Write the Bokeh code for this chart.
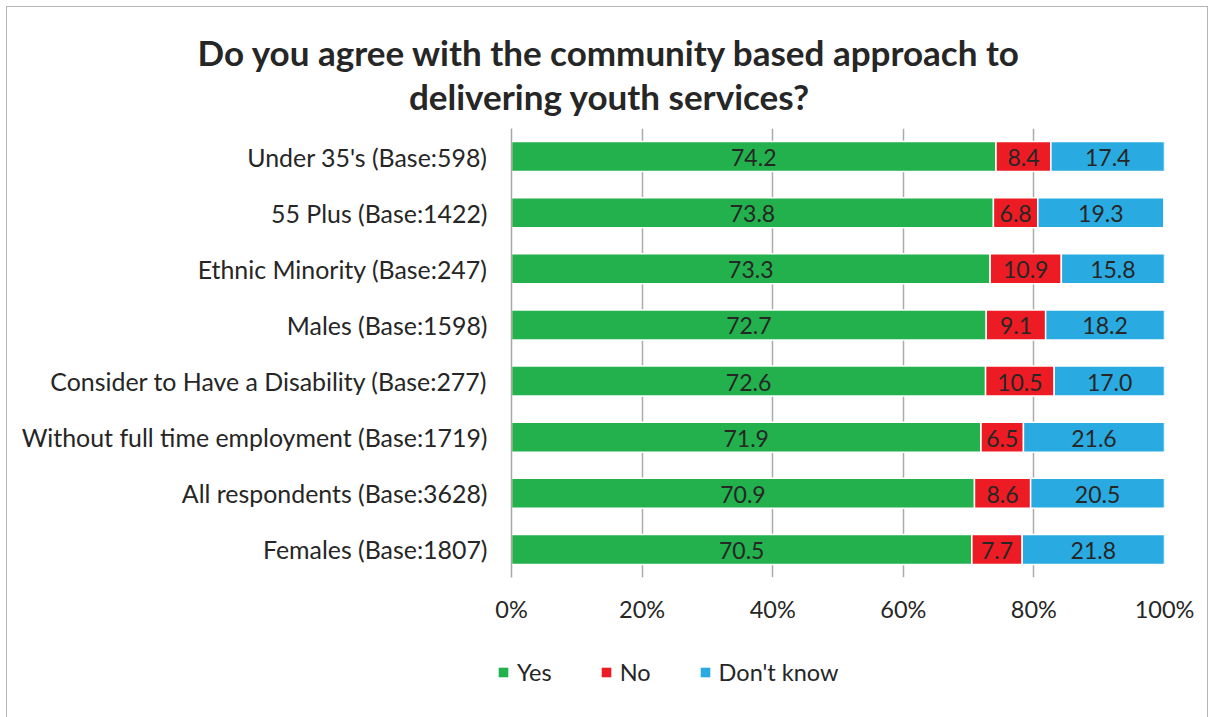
from bokeh.plotting import figure
from bokeh.layouts import column
from bokeh.models import (ColumnDataSource, FactorRange, Range1d, FixedTicker, LabelSet,
                          Label, Legend, LegendItem)
from bokeh.core.properties import value
from bokeh.embed import file_html
from bokeh.resources import INLINE

categories = ["Under 35's (Base:598)", "55 Plus (Base:1422)", "Ethnic Minority (Base:247)",
              "Males (Base:1598)", "Consider to Have a Disability (Base:277)",
              "Without full time employment (Base:1719)", "All respondents (Base:3628)",
              "Females (Base:1807)"]
yes = [74.2, 73.8, 73.3, 72.7, 72.6, 71.9, 70.9, 70.5]
no = [8.4, 6.8, 10.9, 9.1, 10.5, 6.5, 8.6, 7.7]
dont_know = [17.4, 19.3, 15.8, 18.2, 17.0, 21.6, 20.5, 21.8]
series_names = ["Yes", "No", "Don't know"]
colors = ["#22B14C", "#ED1C24", "#29ABE2"]
x_ticks = [0, 20, 40, 60, 80, 100]
x_tick_labels = ["0%", "20%", "40%", "60%", "80%", "100%"]
title_lines = ["Do you agree with the community based approach to",
               "delivering youth services?"]

FONT = "Lato"
TXT = "#262626"
W = 1200
OX, OY = 7, 7                      # page offset of the canvases (margin + border)

# ---------------- title strip ----------------
TH = 128 - OY
pt = figure(width=W, height=TH, output_backend="svg", toolbar_location=None,
            x_range=Range1d(0, W), y_range=Range1d(0, TH),
            x_axis_location=None, y_axis_location=None, min_border=0)
pt.frame_align = False
pt.grid.visible = False
pt.outline_line_color = None
for line, page_y in zip(title_lines, [51, 95]):
    pt.add_layout(Label(x=609 - OX, y=TH - (page_y - OY), text=line, text_align="center",
                        text_baseline="middle", text_font=FONT, text_font_size="35px",
                        text_font_style="bold", text_color=TXT))

# ---------------- main chart ----------------
FL, FR = 511 - OX, 1164 - OX
FRAME_H = 577 - 128
BOTTOM = 70
p = figure(width=W, height=FRAME_H + BOTTOM, output_backend="svg", toolbar_location=None,
           title=None,
           y_range=FactorRange(factors=list(reversed(categories)), range_padding=0),
           x_range=Range1d(0, 100),
           min_border_left=FL, min_border_right=W - FR,
           min_border_top=0, min_border_bottom=BOTTOM)
p.outline_line_color = None

src = ColumnDataSource(dict(cat=categories, yes=yes, no=no, dk=dont_know))
keys = ["yes", "no", "dk"]
renderers = p.hbar_stack(keys, y="cat", height=0.535, source=src,
                         fill_color=colors, line_color="white", line_width=1.5)

for i, key in enumerate(keys):
    vals = src.data[key]
    starts = [sum(src.data[k][j] for k in keys[:i]) for j in range(len(vals))]
    mids = [s + v / 2 for s, v in zip(starts, vals)]
    ls_src = ColumnDataSource(dict(x=mids, y=categories, t=["%.1f" % v for v in vals]))
    p.add_layout(LabelSet(x="x", y="y", text="t", source=ls_src, text_align="center",
                          text_baseline="middle", text_font=value(FONT),
                          text_font_size="23px", text_color=TXT, y_offset=-1))

p.xaxis.ticker = FixedTicker(ticks=x_ticks)
p.xaxis.major_label_overrides = {t: l for t, l in zip(x_ticks, x_tick_labels)}
p.xaxis.axis_line_color = None
p.xaxis.major_tick_line_color = None
p.xaxis.minor_tick_line_color = None
p.xaxis.major_label_standoff = 11
p.xaxis.major_label_text_font = FONT
p.xaxis.major_label_text_font_size = "23.5px"
p.xaxis.major_label_text_color = TXT

p.yaxis.axis_line_color = "#a6a6a6"
p.yaxis.axis_line_width = 1.5
p.yaxis.major_tick_line_color = None
p.yaxis.minor_tick_line_color = None
p.yaxis.major_label_standoff = 18
p.yaxis.major_label_text_font = FONT
p.yaxis.major_label_text_font_size = "24.9px"
p.yaxis.major_label_text_color = TXT

p.ygrid.grid_line_color = None
p.xgrid.grid_line_color = "#ababab"
p.xgrid.grid_line_width = 1.5

# ---------------- legend strip ----------------
# legend-only strip: same series, drawn with zero bar height so only the legend shows
LH = 80
pl = figure(width=W, height=LH, output_backend="svg", toolbar_location=None,
            x_range=Range1d(0, 100), y_range=FactorRange(factors=categories),
            x_axis_location=None, y_axis_location=None, min_border=0)
pl.frame_align = False
pl.grid.visible = False
pl.outline_line_color = None
leg_src = ColumnDataSource(dict(cat=categories, yes=yes, no=no, dk=dont_know))
leg_renderers = pl.hbar_stack(keys, y="cat", height=0, source=leg_src,
                              fill_color=colors, line_color=None)
legend_top_page = 674 - 12
legend = Legend(items=[LegendItem(label=n, renderers=[r]) for n, r in zip(series_names, leg_renderers)],
                orientation="horizontal",
                location=(497 - OX, LH - (legend_top_page - (OY + TH + FRAME_H + BOTTOM)) - 24),
                padding=0, margin=0, glyph_width=12, glyph_height=12, label_height=24,
                label_standoff=8, spacing=48,
                label_text_font=FONT, label_text_font_size="23.5px", label_text_color=TXT,
                border_line_color=None, background_fill_alpha=0)
pl.add_layout(legend, "center")

layout = column(pt, p, pl, spacing=0)
layout.styles = {"border": "1px solid #b5b5b5", "margin-left": "6px", "margin-top": "6px"}

open("out.html", "w").write(file_html(layout, INLINE))
